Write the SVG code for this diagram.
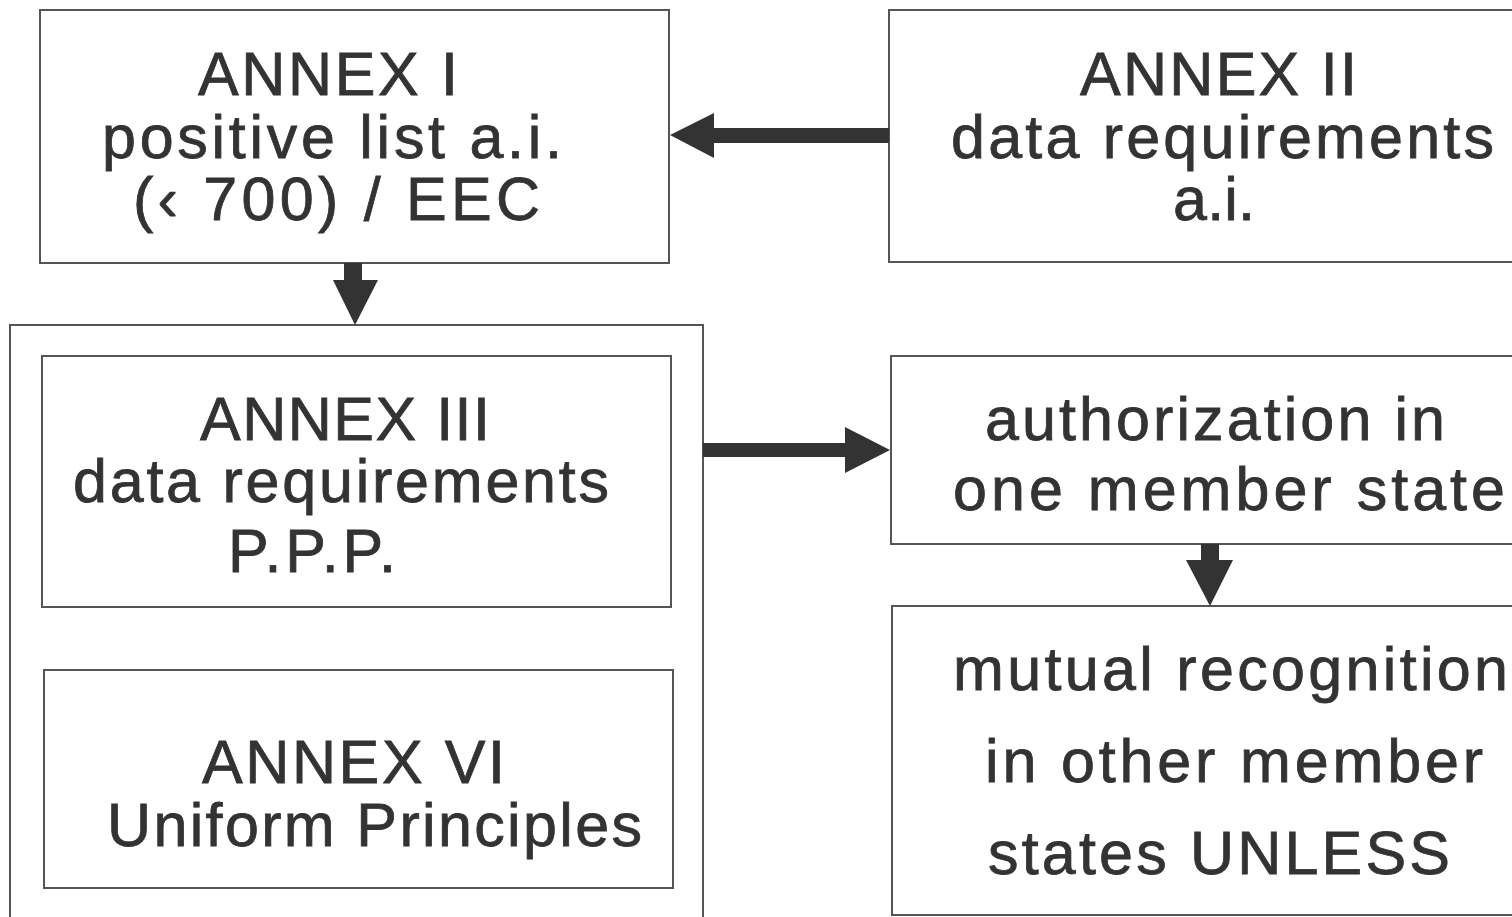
<svg xmlns="http://www.w3.org/2000/svg" width="1512" height="917" viewBox="0 0 1512 917">
<style>
.box{fill:none;stroke:#555;stroke-width:2}
.t{font-family:"Liberation Sans",Arial,sans-serif;font-size:61px;fill:#333;stroke:#333;stroke-width:0.8}
.arr{fill:#333;stroke:none}
</style>
<rect width="1512" height="917" fill="#fff"/>
<g id="annex1">
<rect class="box" x="40" y="10" width="629" height="253"/>
<text class="t" x="198" y="95" textLength="260" lengthAdjust="spacing">ANNEX I</text>
<text class="t" x="102" y="158" textLength="460" lengthAdjust="spacing">positive list a.i.</text>
<text class="t" x="133" y="220" textLength="407" lengthAdjust="spacing">(‹ 700) / EEC</text>
</g>
<g id="annex2">
<rect class="box" x="889" y="10" width="640" height="252"/>
<text class="t" x="1080" y="95" textLength="277" lengthAdjust="spacing">ANNEX II</text>
<text class="t" x="951" y="158" textLength="543" lengthAdjust="spacing">data requirements</text>
<text class="t" x="1173" y="220" textLength="82" lengthAdjust="spacing">a.i.</text>
</g>
<g id="ppp-group">
<rect class="box" x="10" y="325" width="693" height="620"/>
</g>
<g id="annex3">
<rect class="box" x="42" y="356" width="629" height="251"/>
<text class="t" x="200" y="440" textLength="290" lengthAdjust="spacing">ANNEX III</text>
<text class="t" x="73" y="502" textLength="536" lengthAdjust="spacing">data requirements</text>
<text class="t" x="228" y="572" textLength="168" lengthAdjust="spacing">P.P.P.</text>
</g>
<g id="annex6">
<rect class="box" x="44" y="670" width="629" height="218"/>
<text class="t" x="202" y="783" textLength="303" lengthAdjust="spacing">ANNEX VI</text>
<text class="t" x="107" y="846" textLength="535" lengthAdjust="spacing">Uniform Principles</text>
</g>
<g id="authorization">
<rect class="box" x="891" y="356" width="640" height="188"/>
<text class="t" x="985" y="440" textLength="460" lengthAdjust="spacing">authorization in</text>
<text class="t" x="953" y="510" textLength="552" lengthAdjust="spacing">one member state</text>
</g>
<g id="mutual">
<rect class="box" x="892" y="606" width="640" height="309"/>
<text class="t" x="953" y="690" textLength="555" lengthAdjust="spacing">mutual recognition</text>
<text class="t" x="985" y="782" textLength="498" lengthAdjust="spacing">in other member</text>
<text class="t" x="988" y="874" textLength="462" lengthAdjust="spacing">states UNLESS</text>
</g>
<g id="connectors">
<polygon class="arr" points="889,128 714,128 714,113 670,135 714,158 714,143 889,143"/>
<polygon class="arr" points="344,263 362,263 362,280 378,280 355,325 333,280 344,280"/>
<polygon class="arr" points="703,443 845,443 845,427 890,450 845,473 845,457 703,457"/>
<polygon class="arr" points="1201,544 1219,544 1219,560 1233,560 1210,606 1186,560 1201,560"/>
</g>
</svg>
